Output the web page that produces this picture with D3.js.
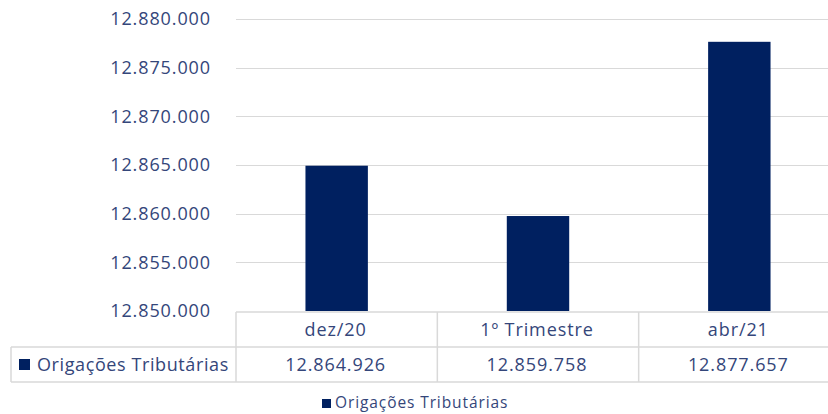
<!DOCTYPE html>
<html>
<head>
<meta charset="utf-8">
<script src="https://cdn.jsdelivr.net/npm/d3@7"></script>
<style>
  html, body { margin: 0; padding: 0; background: #fff; }
  svg { display: block; font-family: "Open Sans", "Noto Sans", sans-serif; }
</style>
</head>
<body>
<div id="chart"></div>
<script>
// Data
const categories = ["dez/20", "1º Trimestre", "abr/21"];
const values = [12864926, 12859758, 12877657];
const seriesName = "Origações Tributárias";
const yTicks = [12850000, 12855000, 12860000, 12865000, 12870000, 12875000, 12880000];

// Configuration
const width = 828;
const height = 414;
const barColor = "#002060";
const textColor = "#34467a";
const gridColor = "#d9d9d9";

const plotLeft = 236;
const plotRight = 840; // last column runs past the picture edge
const plotTop = 19;
const plotBottom = 311;
const rowH = 35;

const ptBR = d3.formatLocale({ decimal: ",", thousands: ".", grouping: [3], currency: ["", ""] });
const fmt = ptBR.format(",d");

const svg = d3.select("#chart")
    .append("svg")
    .attr("width", width)
    .attr("height", height)
    .attr("viewBox", [0, 0, width, height]);

const x = d3.scaleBand()
    .domain(categories)
    .range([plotLeft, plotRight])
    .paddingInner(0.69)
    .paddingOuter(0.345);

const xCol = d3.scaleBand()
    .domain(categories)
    .range([plotLeft, plotRight]);

const y = d3.scaleLinear()
    .domain([12850000, 12880000])
    .range([plotBottom, plotTop]);

// Gridlines
svg.append("g")
    .selectAll("line")
    .data(yTicks.slice(1))
    .join("line")
    .attr("x1", plotLeft)
    .attr("x2", plotRight)
    .attr("y1", d => Math.round(y(d)) + 0.5)
    .attr("y2", d => Math.round(y(d)) + 0.5)
    .attr("stroke", gridColor)
    .attr("stroke-width", 1);

// Y tick labels
svg.append("g")
    .selectAll("text")
    .data(yTicks)
    .join("text")
    .attr("x", 211)
    .attr("y", d => y(d))
    .attr("dy", "0.35em")
    .attr("text-anchor", "end")
    .style("font-size", "18px")
    .style("letter-spacing", "0.9px")
    .style("fill", textColor)
    .text(d => fmt(d));

// Bars
svg.append("g")
    .selectAll("rect")
    .data(values)
    .join("rect")
    .attr("x", (d, i) => x(categories[i]))
    .attr("width", x.bandwidth())
    .attr("y", d => y(d))
    .attr("height", d => y(12850000) - y(d))
    .attr("fill", barColor);

// Data table
const table = svg.append("g")
    .attr("stroke", gridColor)
    .attr("stroke-width", 1.5)
    .attr("fill", "none");

const rowTop = plotBottom + 1;
const rowMid = rowTop + rowH;
const rowBot = rowMid + rowH;

table.append("line").attr("x1", plotLeft).attr("x2", plotRight).attr("y1", rowTop).attr("y2", rowTop);
table.append("line").attr("x1", 11).attr("x2", plotRight).attr("y1", rowMid).attr("y2", rowMid);
table.append("line").attr("x1", 11).attr("x2", plotRight).attr("y1", rowBot).attr("y2", rowBot);
table.append("line").attr("x1", 11).attr("x2", 11).attr("y1", rowMid).attr("y2", rowBot);
table.selectAll("line.col")
    .data(categories)
    .join("line")
    .attr("class", "col")
    .attr("x1", d => xCol(d))
    .attr("x2", d => xCol(d))
    .attr("y1", rowTop)
    .attr("y2", rowBot);

svg.append("g")
    .selectAll("text")
    .data(categories)
    .join("text")
    .attr("x", d => xCol(d) + xCol.bandwidth() / 2 - 1)
    .attr("y", rowTop + rowH / 2)
    .attr("dy", "0.35em")
    .attr("text-anchor", "middle")
    .style("font-size", "18px")
    .style("letter-spacing", "0.9px")
    .style("fill", textColor)
    .text(d => d);

svg.append("g")
    .selectAll("text")
    .data(values)
    .join("text")
    .attr("x", (d, i) => xCol(categories[i]) + xCol.bandwidth() / 2 - 1)
    .attr("y", rowMid + rowH / 2)
    .attr("dy", "0.35em")
    .attr("text-anchor", "middle")
    .style("font-size", "18px")
    .style("letter-spacing", "0.9px")
    .style("fill", textColor)
    .text(d => fmt(d));

// Row label with key
svg.append("rect")
    .attr("x", 19).attr("y", rowMid + 12)
    .attr("width", 11).attr("height", 11)
    .attr("fill", barColor);
svg.append("text")
    .attr("x", 37)
    .attr("y", rowMid + rowH / 2)
    .attr("dy", "0.35em")
    .style("font-size", "18px")
    .style("letter-spacing", "0.6px")
    .style("fill", textColor)
    .text(seriesName);

// Legend
const legend = svg.append("g").attr("transform", "translate(322, 403)");
legend.append("rect")
    .attr("x", 0).attr("y", -4)
    .attr("width", 9).attr("height", 9)
    .attr("fill", barColor);
legend.append("text")
    .attr("x", 13)
    .attr("y", 0)
    .attr("dy", "0.35em")
    .style("font-size", "15.5px")
    .style("letter-spacing", "0.9px")
    .style("fill", textColor)
    .text(seriesName);
</script>
</body>
</html>
